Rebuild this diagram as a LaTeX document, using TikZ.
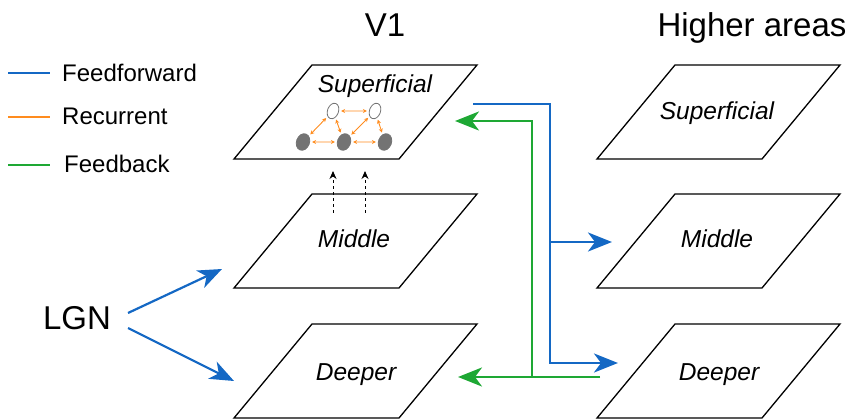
\documentclass[tikz,border=0pt]{standalone}
\usepackage{fontspec}
\setmainfont{Liberation Sans}
\usetikzlibrary{arrows.meta,shapes.geometric}
\definecolor{ffblue}{RGB}{20,104,196}
\definecolor{fbgreen}{RGB}{30,168,52}
\definecolor{recorange}{RGB}{255,140,30}
\def\layer(#1,#2){\draw[line width=1.3pt] (#1,#2) -- ++(165,0) -- ++(78,-94) -- ++(-165,0) -- cycle;}

\begin{document}
\begin{tikzpicture}[x=1pt, y=-1pt,
	big/.style={font=\fontsize{33}{36}\selectfont, inner sep=0pt, anchor=base},
	lay/.style={font=\fontsize{24.5}{28}\itshape, inner sep=0pt, anchor=base},
	leg/.style={font=\fontsize{24}{28}\selectfont, inner sep=0pt, anchor=base west},
	ff/.style={draw=ffblue, line width=2.2pt},
	fb/.style={draw=fbgreen, line width=2.2pt},
	tip/.style={-{Stealth[length=24pt,width=19pt,inset=7pt]}},
	cell/.style={ellipse, draw=black!55, line width=0.8pt, minimum width=11pt, minimum height=16pt, inner sep=0pt, rotate=-20},
	rec/.style={draw=recorange, line width=0.9pt, {Stealth[length=4pt,width=4pt]}-{Stealth[length=4pt,width=4pt]}, shorten <=2pt, shorten >=2pt}]
		%%%%% START %%%%%
		\useasboundingbox (0,0) rectangle (856,419);
		
		% legend
		\draw[ff] (8,73) -- (50,73);
		\node[leg] (legff) at (62,82) {Feedforward};
		\draw[draw=recorange, line width=2.2pt] (8,117) -- (50,117);
		\node[leg] (legrec) at (62,125) {Recurrent};
		\draw[fb] (8,165) -- (50,165);
		\node[leg] (legfb) at (64,173) {Feedback};
		
		% titles
		\node[big] (v1) at (385,37) {V1};
		\node[big] (higher) at (752,37) {Higher areas};
		\node[big] (lgn) at (77,330) {LGN};
		
		% layers
		\layer(234,159)
		\layer(234,288)
		\layer(234,418)
		\layer(597,159)
		\layer(597,288)
		\layer(597,418)
		
		\node[lay] (v1sup) at (375,93) {Superficial};
		\node[lay] (v1mid) at (354,248) {Middle};
		\node[lay] (v1deep) at (356,380) {Deeper};
		\node[lay] (hisup) at (717,120) {Superficial};
		\node[lay] (himid) at (717,248) {Middle};
		\node[lay] (hideep) at (719,380) {Deeper};
		
		% recurrent cells
		\node[cell, fill=white] (e1) at (333,111) {};
		\node[cell, fill=white] (e2) at (375,111) {};
		\node[cell, fill=black!55, minimum width=13pt, minimum height=17pt] (i1) at (303,142) {};
		\node[cell, fill=black!55, minimum width=13pt, minimum height=17pt] (i2) at (344,142) {};
		\node[cell, fill=black!55, minimum width=13pt, minimum height=17pt] (i3) at (385,142) {};
		\draw[rec] (e1) -- (e2);
		\draw[rec] (i1) -- (i2);
		\draw[rec] (i2) -- (i3);
		\draw[rec] (i1) -- (e1);
		\draw[rec] (e1) -- (i2);
		\draw[rec] (e2) -- (i2);
		\draw[rec] (e2) -- (i3);
		
		% middle to superficial
		\coordinate (d1) at (333,213);
		\coordinate (d2) at (365,213);
		\draw[dashed, line width=0.9pt, -{Stealth[length=8pt,width=7pt]}] (d1) -- (333,171);
		\draw[dashed, line width=0.9pt, -{Stealth[length=8pt,width=7pt]}] (d2) -- (365,171);
		
		% LGN input
		\coordinate (lgnmid) at (222,269);
		\coordinate (lgndeep) at (234,381);
		\draw[ff, tip] (128,313) -- (lgnmid);
		\draw[ff, tip] (128,328) -- (lgndeep);
		
		% feedforward
		\coordinate (ffstart) at (473,104);
		\coordinate (ffbus) at (550,104);
		\coordinate (ffmid) at (612,242);
		\coordinate (ffdeep) at (618,363);
		\draw[ff, tip] (ffstart) -- (ffbus) |- (ffdeep);
		\draw[ff, tip] (ffbus |- ffmid) -- (ffmid);
		
		% feedback
		\coordinate (fbstart) at (600,377);
		\coordinate (fbbus) at (532,377);
		\coordinate (fbdeep) at (458,377);
		\coordinate (fbsup) at (455,121);
		\draw[fb, tip] (fbstart) -- (fbdeep);
		\draw[fb, tip] (fbbus) |- (fbsup);
		
		%%%%% END %%%%%
	\end{tikzpicture}
\end{document}
